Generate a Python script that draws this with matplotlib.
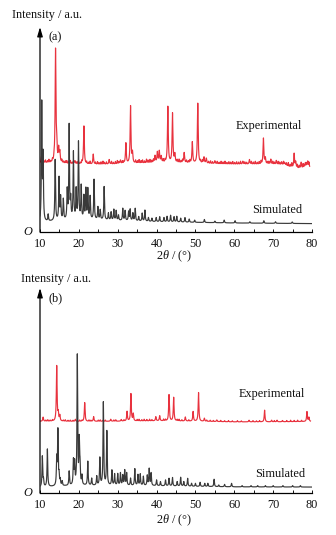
import numpy as np
import matplotlib
matplotlib.use("Agg")
import matplotlib.pyplot as plt

plt.rcParams['font.family'] = ['Liberation Serif', 'DejaVu Serif']
plt.rcParams['mathtext.fontset'] = 'custom'
plt.rcParams['mathtext.rm'] = 'Liberation Serif'
plt.rcParams['mathtext.it'] = 'Liberation Serif:italic'

# ---------------- data (2theta in degrees, intensity in a.u.) ----------------
x_ticks = [10, 20, 30, 40, 50, 60, 70, 80]

# Panel (a) experimental: peak positions and heights above background
exp_a_pos = [10.4, 14.0, 14.3, 14.8, 15.1, 19.0, 21.3, 23.7, 27.8, 30.7, 32.1, 33.3, 33.8,
             39.6, 40.2, 40.7, 41.2, 42.9, 44.1, 44.7, 47.1, 49.2, 50.6, 52.2, 52.8, 55.0,
             62.2, 63.9, 67.5, 68.0, 69.4, 70.8, 72.2, 73.0, 75.4, 75.8, 77.2, 78.3, 78.9]
exp_a_int = [3.3, 55.0, 7.5, 6.5, 5.0, 1.5, 18.7, 5.0, 2.3, 1.8, 10.0, 28.0, 5.0,
             3.3, 5.0, 5.5, 3.0, 27.3, 24.0, 4.0, 5.0, 10.3, 29.3, 3.0, 2.5, 1.5,
             1.5, 2.3, 12.7, 3.0, 2.5, 2.0, 1.5, 1.0, 7.0, 3.0, 3.0, 2.5, 3.0]
# small noise-like bumps on the experimental baseline
exp_a_ripple_pos = [11.0, 11.4, 11.9, 12.3, 12.8, 13.2, 13.6, 15.6, 16.0, 16.5, 16.9,
                    17.4, 17.8, 18.3, 18.7, 19.5, 19.9, 20.4, 20.8, 22.0, 22.5, 22.9,
                    24.3, 24.8, 25.2, 25.7, 26.2, 26.6, 27.1, 28.4, 28.9, 29.4, 29.9,
                    30.3, 31.2, 31.6, 34.6, 35.1, 35.5, 36.0, 36.4, 36.9, 37.4, 37.8,
                    38.3, 38.8, 39.2, 41.7, 42.2, 45.3, 45.8, 46.3, 46.7, 47.7, 48.2,
                    48.6, 51.3, 51.8, 53.4, 53.9, 54.4, 55.6, 56.1, 56.6, 57.1, 57.6,
                    58.1, 58.6, 59.1, 59.6, 60.1, 60.6, 61.1, 61.6, 62.7, 63.2, 64.4,
                    64.9, 65.4, 65.9, 66.4, 66.9, 68.5, 68.9, 69.9, 70.3, 71.3, 71.7,
                    72.7, 73.4, 73.9, 74.4, 74.8, 76.2, 76.7, 77.7, 78.0, 78.6, 79.2]
exp_a_ripple_int = [0.8, 1.3, 0.9, 1.5, 0.7, 1.2, 1.0, 1.4, 0.8, 1.1, 1.3,
                    0.9, 1.5, 0.8, 1.2, 1.0, 1.4, 0.7, 1.2, 1.1, 0.8, 1.4,
                    1.0, 1.3, 0.8, 1.2, 1.5, 0.9, 1.1, 1.3, 0.8, 1.2, 1.6,
                    1.0, 1.2, 0.9, 1.4, 1.1, 1.7, 1.2, 1.5, 1.0, 1.8, 1.3,
                    1.6, 1.1, 1.5, 1.4, 1.2, 1.3, 1.6, 1.0, 1.4, 1.2, 0.9,
                    1.3, 1.1, 1.4, 1.0, 1.3, 0.9, 1.2, 0.8, 1.3, 1.0, 1.4,
                    0.8, 1.2, 1.0, 1.3, 0.9, 1.2, 1.0, 1.4, 1.1, 0.9, 1.3,
                    1.0, 1.4, 0.9, 1.2, 1.5, 1.1, 1.3, 1.4, 1.0, 1.5, 1.2,
                    1.6, 1.3, 1.8, 1.2, 2.0, 1.7, 1.4, 2.1, 1.5, 1.9, 2.2]
exp_a_bg_x = [10, 15, 20, 25, 30, 35, 40, 45, 50, 55, 60, 65, 70, 73, 74, 76, 78, 79.4]
exp_a_bg_y = [33.7, 33.5, 33.0, 32.9, 33.1, 33.4, 33.8, 33.7, 33.5, 33.2, 33.0, 33.0,
              32.9, 32.6, 31.8, 30.9, 30.9, 31.6]

# Panel (a) simulated: peak positions and top values
sim_a_pos = [10.45, 10.8, 12.1, 13.9, 14.9, 15.3, 16.0, 17.0, 17.5, 17.9, 18.6, 19.3,
             19.9, 20.6, 21.3, 21.8, 22.3, 22.9, 23.9, 24.9, 25.5, 26.5, 27.6, 28.3,
             29.0, 29.6, 30.2, 31.3, 31.9, 32.8, 33.2, 33.9, 34.5, 35.4, 36.3, 37.0,
             37.9, 38.8, 39.9, 40.8, 41.9, 42.7, 43.6, 44.5, 45.2, 46.2, 47.3, 48.4,
             49.8, 52.3, 55.0, 57.4, 60.2, 64.0, 67.6, 70.6, 74.9]
sim_a_top = [62.0, 36.0, 8.3, 35.0, 26.0, 16.4, 15.6, 19.7, 51.4, 15.0, 38.4, 20.0,
             43.3, 22.0, 17.0, 20.5, 20.5, 17.0, 25.4, 12.0, 10.6, 22.0, 9.1, 9.6,
             10.9, 10.3, 8.1, 11.4, 10.3, 9.8, 10.9, 9.1, 11.4, 7.4, 9.1, 10.6,
             7.0, 6.7, 7.0, 7.4, 7.0, 7.6, 8.1, 7.4, 7.6, 6.7, 7.0, 6.3,
             5.8, 6.1, 5.3, 5.8, 5.5, 5.0, 5.5, 5.0, 4.9]
sim_a_bg_x = [10, 12, 15, 20, 25, 30, 35, 40, 50, 60, 80]
sim_a_bg_y = [4.6, 5.0, 5.5, 5.9, 5.9, 5.6, 5.3, 5.0, 4.7, 4.4, 4.1]

# Panel (b) experimental
exp_b_pos = [10.8, 14.3, 14.7, 15.1, 19.1, 21.5, 23.8, 28.2, 30.9, 32.4, 33.4, 34.0,
             39.8, 40.8, 43.2, 44.4, 47.4, 49.4, 50.8, 52.3, 55.5, 63.8, 67.8, 69.6,
             71.0, 72.4, 78.7, 79.2]
exp_b_int = [2.0, 27.0, 3.6, 2.7, 1.0, 9.2, 2.3, 1.0, 0.8, 4.7, 13.3, 3.5,
             2.0, 2.5, 12.8, 11.5, 2.0, 4.7, 14.0, 1.5, 0.8, 0.8, 5.7, 0.8,
             0.8, 0.6, 4.8, 2.0]
exp_b_ripple_pos = [11.5, 12.0, 12.6, 13.2, 16.0, 16.5, 17.2, 17.8, 18.5, 20.2, 20.8,
                    22.6, 23.1, 25.0, 25.5, 26.2, 26.8, 29.0, 29.5, 31.6, 35.0, 35.5,
                    36.2, 36.8, 37.5, 38.2, 38.8, 41.8, 42.3, 45.3, 45.8, 46.5, 48.3,
                    52.9, 53.8, 54.6, 56.5, 57.5, 58.5, 59.5, 60.8, 61.8, 64.8, 65.7,
                    66.5, 70.3, 73.5, 74.5, 75.4, 76.3, 77.3]
exp_b_ripple_int = [0.5, 0.7, 0.5, 0.6, 0.5, 0.7, 0.5, 0.6, 0.5, 0.6, 0.5,
                    0.6, 0.5, 0.6, 0.7, 0.5, 0.6, 0.6, 0.7, 0.6, 0.7, 0.8,
                    0.6, 0.8, 0.7, 0.8, 0.6, 0.8, 0.7, 0.7, 0.8, 0.6, 0.6,
                    0.6, 0.6, 0.5, 0.6, 0.5, 0.6, 0.5, 0.6, 0.5, 0.6, 0.5,
                    0.6, 0.6, 0.6, 0.7, 0.6, 0.7, 0.6]
exp_b_bg_x = [10, 20, 30, 40, 50, 60, 70, 80]
exp_b_bg_y = [35.0, 34.9, 35.0, 35.2, 35.0, 34.7, 34.7, 34.9]

# Panel (b) simulated
sim_b_pos = [10.6, 10.9, 11.9, 14.3, 14.6, 14.9, 15.2, 15.7, 17.5, 18.6, 18.9, 19.6,
             20.1, 20.3, 20.8, 22.3, 23.3, 24.6, 25.4, 26.3, 27.2, 28.5, 29.2, 30.0,
             30.7, 31.3, 31.8, 32.3, 33.3, 34.4, 35.2, 35.8, 36.6, 37.6, 38.1, 38.6,
             40.0, 41.0, 42.3, 43.2, 44.1, 45.3, 46.2, 47.0, 48.0, 49.0, 50.0, 51.2,
             52.4, 53.2, 54.8, 56.0, 57.5, 59.3, 62.0, 64.3, 66.0, 68.0, 70.0, 72.5,
             75.0, 77.0]
sim_b_top = [17.7, 6.0, 21.3, 16.1, 29.9, 8.0, 6.0, 5.5, 10.4, 15.3, 14.0, 66.5,
             24.2, 12.0, 8.0, 15.3, 7.0, 8.0, 16.9, 44.0, 29.9, 10.9, 9.1, 9.2,
             9.6, 8.4, 10.9, 9.6, 7.1, 11.7, 8.8, 9.1, 8.0, 8.4, 11.7, 9.6,
             6.3, 5.5, 6.3, 7.1, 7.5, 5.5, 7.6, 5.5, 7.1, 4.7, 4.7, 5.2,
             4.7, 4.7, 6.7, 3.9, 4.2, 4.7, 3.6, 3.6, 3.6, 3.6, 3.6, 3.6,
             3.6, 3.6]
sim_b_bg_x = [10, 15, 20, 30, 40, 50, 60, 80]
sim_b_bg_y = [2.8, 3.3, 3.6, 3.6, 3.5, 3.2, 3.0, 2.9]

RED = '#e8323e'
GRAY = '#3a3a3a'
TXT = '#111111'


def profile(x, pos, amp, hw):
    y = np.zeros_like(x)
    for p, a in zip(pos, amp):
        y += a * hw ** 2 / ((x - p) ** 2 + hw ** 2)
    return y


def exp_curve(x_end, pos, amp, rpos, ramp, bgx, bgy, hw):
    x = np.linspace(10, x_end, 7000)
    y = np.interp(x, bgx, bgy) + profile(x, pos, amp, hw) + profile(x, rpos, ramp, 0.07)
    return x, y


def sim_curve(pos, top, bgx, bgy, hw):
    x = np.linspace(10, 80, 7000)
    bg = np.interp(x, bgx, bgy)
    amp = np.array(top) - np.interp(pos, bgx, bgy)
    return x, bg + profile(x, pos, amp, hw)


fig = plt.figure(figsize=(3.36, 5.35), dpi=100)
W, H = 336, 535


def make_axes(bottom_px, label_x_px, label_y_px, tag, xlabel_y_px):
    ax = fig.add_axes([40 / W, (H - bottom_px) / H, 272 / W, 205 / H])
    ax.set_xlim(10, 80)
    ax.set_ylim(0, 100)
    for s in ['top', 'right', 'left']:
        ax.spines[s].set_visible(False)
    ax.spines['bottom'].set_linewidth(0.9)
    ax.set_yticks([])
    ax.set_xticks(x_ticks)
    ax.set_xticks(np.arange(15, 80, 10), minor=True)
    ax.tick_params(axis='x', which='both', direction='in', length=2.2, width=0.7,
                   labelsize=8.8, pad=4.0, colors=TXT)
    ax.annotate('', xy=(0, 1), xytext=(0, 0), xycoords='axes fraction',
                arrowprops=dict(arrowstyle='-|>,head_length=0.55,head_width=0.16',
                                lw=0.9, color='black', shrinkA=0, shrinkB=0))
    fig.text(label_x_px / W, 1 - label_y_px / H, 'Intensity / a.u.', fontsize=8.8,
             ha='left', va='center', color=TXT)
    ax.text(13.9, 95, tag, fontsize=8.8, ha='center', va='center', color=TXT)
    ax.text(-0.03, 0, 'O', transform=ax.transAxes, fontsize=8.8, style='italic',
            ha='right', va='center', color=TXT)
    fig.text(174 / W, 1 - xlabel_y_px / H, '2$\\it{\\theta}$ / (°)', fontsize=8.8,
             ha='center', va='center', color=TXT)
    return ax


ax_a = make_axes(232, 12, 15, '(a)', 256.5)
xa, ya = exp_curve(79.4, exp_a_pos, exp_a_int, exp_a_ripple_pos, exp_a_ripple_int,
                   exp_a_bg_x, exp_a_bg_y, 0.12)
ax_a.plot(xa, ya, color=RED, lw=0.85, zorder=2)
xs, ys = sim_curve(sim_a_pos, sim_a_top, sim_a_bg_x, sim_a_bg_y, 0.1)
ax_a.plot(xs, ys, color=GRAY, lw=0.85, zorder=3)
ax_a.text(77.4, 51.9, 'Experimental', fontsize=8.8, ha='right', va='center', color=TXT)
ax_a.text(77.4, 10.7, 'Simulated', fontsize=8.8, ha='right', va='center', color=TXT)

ax_b = make_axes(493, 21, 279, '(b)', 520.5)
xb, yb = exp_curve(79.6, exp_b_pos, exp_b_int, exp_b_ripple_pos, exp_b_ripple_int,
                   exp_b_bg_x, exp_b_bg_y, 0.11)
ax_b.plot(xb, yb, color=RED, lw=0.85, zorder=2)
xs2, ys2 = sim_curve(sim_b_pos, sim_b_top, sim_b_bg_x, sim_b_bg_y, 0.1)
ax_b.plot(xs2, ys2, color=GRAY, lw=0.85, zorder=3)
ax_b.text(78.2, 48.1, 'Experimental', fontsize=8.8, ha='right', va='center', color=TXT)
ax_b.text(78.2, 9.3, 'Simulated', fontsize=8.8, ha='right', va='center', color=TXT)

fig.savefig('out.png', dpi=100)
